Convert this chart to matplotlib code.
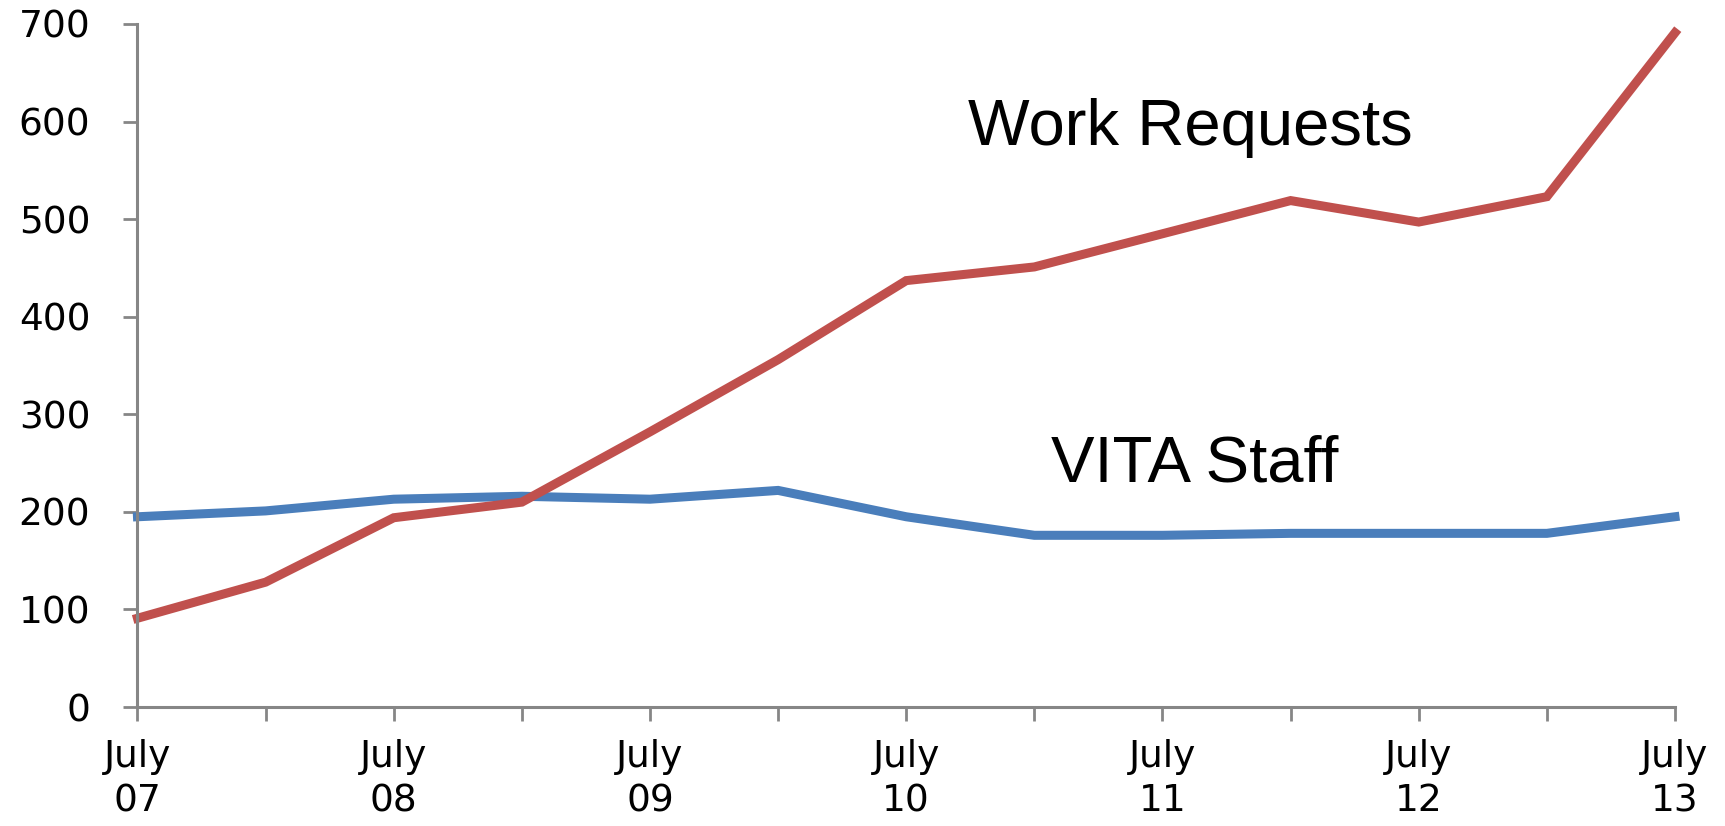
import numpy as np
import matplotlib
matplotlib.use("Agg")
import matplotlib.pyplot as plt

# values (half-year steps, July 07 .. July 13)
periods = np.arange(13)
tick_labels = ["July\n07", "", "July\n08", "", "July\n09", "", "July\n10",
               "", "July\n11", "", "July\n12", "", "July\n13"]
work_requests = [91, 128, 194, 210, 282, 356, 437, 451, 485, 519, 497, 523, 691]
vita_staff = [195, 201, 213, 216, 213, 222, 195, 176, 176, 178, 178, 178, 195]

red = "#C0504D"
blue = "#4A7EBB"
axis_grey = "#868686"

fig = plt.figure(figsize=(17.25, 8.26), dpi=100)
ax = fig.add_axes([0.0797, 0.144, 0.971 - 0.0797, 0.971 - 0.144])

ax.plot(periods, vita_staff, color=blue, lw=6.5, solid_joinstyle="miter", clip_on=False)
ax.plot(periods, work_requests, color=red, lw=6.5, solid_joinstyle="miter", clip_on=False)

ax.set_xlim(0, 12)
ax.set_ylim(0, 700)
ax.set_yticks(range(0, 701, 100))
ax.set_xticks(periods)
ax.set_xticklabels(tick_labels, linespacing=1.3)

for s in ["top", "right"]:
    ax.spines[s].set_visible(False)
for s in ["left", "bottom"]:
    ax.spines[s].set_color(axis_grey)
    ax.spines[s].set_linewidth(2.2)

ax.tick_params(axis="both", colors=axis_grey, length=10, width=2, direction="out",
               labelcolor="black", labelsize=27)
ax.tick_params(axis="y", pad=24)
ax.tick_params(axis="x", pad=13)
for lab in ax.get_xticklabels() + ax.get_yticklabels():
    lab.set_family("DejaVu Sans")

ax.text(8.22, 593, "Work Requests", fontsize=47, family="Liberation Sans",
        ha="center", va="center")
ax.text(8.25, 249, "VITA Staff", fontsize=47, family="Liberation Sans",
        ha="center", va="center")

fig.savefig("out.png", dpi=100)
